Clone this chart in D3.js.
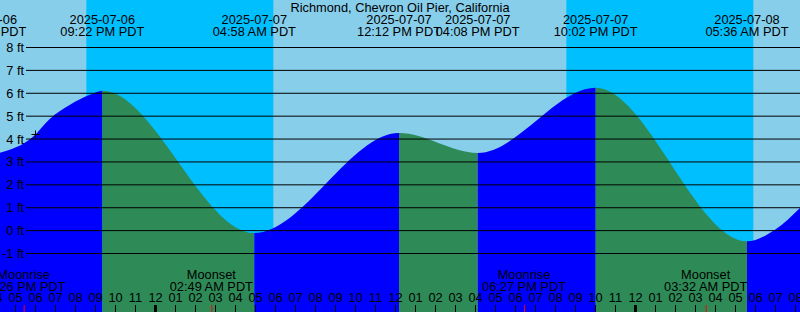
<!DOCTYPE html>
<html>
<head>
<meta charset="utf-8">
<script src="https://cdn.jsdelivr.net/npm/d3@7"></script>
<style>
body{margin:0;}
svg{display:block;font-family:"Liberation Sans",Arial,sans-serif;font-size:12.8px;}
</style>
</head>
<body>
<div id="chart"></div>
<script>
//station name
const TITLE = 'Richmond, Chevron Oil Pier, California';

//tide curve (feet)
const tideTimes = ['2025-07-06 16:15','2025-07-06 17:54','2025-07-06 18:45','2025-07-06 19:45','2025-07-06 20:45',
    '2025-07-06 21:22','2025-07-07 04:58','2025-07-07 12:12','2025-07-07 16:08','2025-07-07 22:02',
    '2025-07-08 05:36','2025-07-08 07:00','2025-07-08 08:15'];
const tideHeights = [3.38, 4.08, 4.87, 5.48, 5.91, 6.09, -0.13, 4.24, 3.37, 6.22, -0.49, 0.02, 0.97];

//high / low labels along the top
const extremeTimes = ['2025-07-06 15:28','2025-07-06 21:22','2025-07-07 04:58','2025-07-07 12:12','2025-07-07 16:08','2025-07-07 22:02','2025-07-08 05:36'];
const extremeDates = ['2025-07-06','2025-07-06','2025-07-07','2025-07-07','2025-07-07','2025-07-07','2025-07-08'];
const extremeClock = ['03:28 PM PDT','09:22 PM PDT','04:58 AM PDT','12:12 PM PDT','04:08 PM PDT','10:02 PM PDT','05:36 AM PDT'];

//night bands
const sunsets = ['2025-07-06 20:34','2025-07-07 20:34'];
const sunrises = ['2025-07-07 05:55','2025-07-08 05:55'];

//moon events
const moonTimes = ['2025-07-06 17:26','2025-07-07 02:49','2025-07-07 18:27','2025-07-08 03:32'];
const moonEvents = ['Moonrise','Moonset','Moonrise','Moonset'];
const moonClock = ['05:26 PM PDT','02:49 AM PDT','06:27 PM PDT','03:32 AM PDT'];

//height grid
const footTicks = [-1,0,1,2,3,4,5,6,7,8];

//current time marker
const nowTime = '2025-07-06 17:59';
const nowHeight = 4.2;

const CONSTANTS = {
    WIDTH:800,
    HEIGHT:312,
    START:'2025-07-06 16:15', //left edge
    END:'2025-07-08 08:15',   //right edge
    GRID_LEFT:26,             //where the foot lines start
    TOP_FT:47,                //y of the top grid line
    BOTTOM_FT:253,            //y of the bottom grid line
    FONT:12.8,
    DAY:'#87ceeb',
    NIGHT:'#00bfff',
    RISING:'#0000ff',
    FALLING:'#2e8b57',
    MOON:'#ff0000'
};

const parse = d3.timeParse('%Y-%m-%d %H:%M');

const svg = d3.select('#chart').append('svg')
    .attr('width',CONSTANTS.WIDTH)
    .attr('height',CONSTANTS.HEIGHT);

const x = d3.scaleTime()
    .domain([parse(CONSTANTS.START),parse(CONSTANTS.END)])
    .range([0,CONSTANTS.WIDTH]);
const y = d3.scaleLinear()
    .domain([d3.min(footTicks),d3.max(footTicks)])
    .range([CONSTANTS.BOTTOM_FT,CONSTANTS.TOP_FT]);

//background: day then night bands
svg.append('rect')
    .attr('width',CONSTANTS.WIDTH)
    .attr('height',CONSTANTS.HEIGHT)
    .attr('fill',CONSTANTS.DAY);

svg.selectAll('rect.night')
    .data(sunsets.map((s,i)=>[parse(s),parse(sunrises[i])]))
    .enter()
    .append('rect')
    .attr('class','night')
    .attr('x',d=>x(d[0]))
    .attr('width',d=>x(d[1]) - x(d[0]))
    .attr('y',0)
    .attr('height',CONSTANTS.HEIGHT)
    .attr('fill',CONSTANTS.NIGHT);

//tide area, split at highs and lows
const tide = tideTimes.map((t,i)=>({date:parse(t),ft:tideHeights[i]}));
let breaks = [0];
for(let i=1;i<tide.length-1;i++){
    if((tide[i].ft - tide[i-1].ft)*(tide[i+1].ft - tide[i].ft) < 0){
        breaks.push(i);
    }
}
breaks.push(tide.length-1);

const area = d3.area()
    .x(d=>x(d.date))
    .y0(CONSTANTS.HEIGHT)
    .y1(d=>y(d.ft))
    .curve(d3.curveMonotoneX);

const defs = svg.append('defs');
for(let s=0;s<breaks.length-1;s++){
    let a = tide[breaks[s]];
    let b = tide[breaks[s+1]];
    defs.append('clipPath')
        .attr('id','seg' + s)
        .append('rect')
        .attr('x',x(a.date))
        .attr('width',x(b.date) - x(a.date))
        .attr('y',0)
        .attr('height',CONSTANTS.HEIGHT);
    svg.append('path')
        .datum(tide)
        .attr('d',area)
        .attr('clip-path','url(#seg' + s + ')')
        .attr('fill',b.ft > a.ft ? CONSTANTS.RISING : CONSTANTS.FALLING);
}

//foot grid lines and labels
const yAxis = d3.axisLeft(y)
    .tickValues(footTicks)
    .tickSize(-(CONSTANTS.WIDTH - CONSTANTS.GRID_LEFT))
    .tickPadding(2)
    .tickFormat(d=>d + ' ft');
svg.append('g')
    .attr('transform','translate(' + CONSTANTS.GRID_LEFT + ',0)')
    .call(yAxis)
    .call(g=>g.select('.domain').remove())
    .call(g=>g.selectAll('text').attr('dy','0.35em').attr('fill','#000'))
    .call(g=>g.selectAll('line').attr('stroke','#000'))
    .attr('font-size',CONSTANTS.FONT)
    .attr('font-family',null);

//title
svg.append('text')
    .text(TITLE)
    .attr('x',CONSTANTS.WIDTH/2)
    .attr('y',12)
    .attr('text-anchor','middle');

//high and low labels
const ext = svg.selectAll('g.extreme')
    .data(extremeTimes.map((t,i)=>({date:parse(t),day:extremeDates[i],clock:extremeClock[i]})))
    .enter()
    .append('g')
    .attr('class','extreme')
    .attr('text-anchor','middle');
ext.append('text').attr('x',d=>x(d.date)).attr('y',24).text(d=>d.day);
ext.append('text').attr('x',d=>x(d.date)).attr('y',35.5).text(d=>d.clock);

//moon labels
const moon = svg.selectAll('g.moon')
    .data(moonTimes.map((t,i)=>({date:parse(t),name:moonEvents[i],clock:moonClock[i]})))
    .enter()
    .append('g')
    .attr('class','moon')
    .attr('text-anchor','middle');
moon.append('text').attr('x',d=>x(d.date)).attr('y',278.5).text(d=>d.name);
moon.append('text').attr('x',d=>x(d.date)).attr('y',290.5).text(d=>d.clock);

//hour ticks along the bottom
const hours = d3.timeHour.range(d3.timeHour.offset(x.domain()[0],-1),x.domain()[1]);
const hourAxis = d3.axisTop(x)
    .tickValues(hours)
    .tickFormat(d3.timeFormat('%I'))
    .tickSize(7)
    .tickPadding(3);
svg.append('g')
    .attr('transform','translate(0,' + CONSTANTS.HEIGHT + ')')
    .call(hourAxis)
    .call(g=>g.select('.domain').remove())
    .call(g=>g.selectAll('text').attr('fill','#000'))
    .call(g=>g.selectAll('line').attr('stroke','#000').attr('stroke-width',d=>d.getHours()===0 ? 3 : 1))
    .attr('font-size',CONSTANTS.FONT)
    .attr('font-family',null);

//moon ticks
svg.selectAll('line.moonTick')
    .data(moonTimes.map(parse))
    .enter()
    .append('line')
    .attr('class','moonTick')
    .attr('x1',d=>x(d) + 0.5)
    .attr('x2',d=>x(d) + 0.5)
    .attr('y1',CONSTANTS.HEIGHT - 7)
    .attr('y2',CONSTANTS.HEIGHT)
    .attr('stroke',CONSTANTS.MOON);

//now marker
const nx = Math.round(x(parse(nowTime))) + 0.5;
const ny = Math.round(y(nowHeight)) + 0.5;
svg.append('path')
    .attr('d','M' + (nx-4) + ',' + ny + 'H' + (nx+4) + 'M' + nx + ',' + (ny-4) + 'V' + (ny+4))
    .attr('stroke','#000')
    .attr('fill','none');
</script>
</body>
</html>
